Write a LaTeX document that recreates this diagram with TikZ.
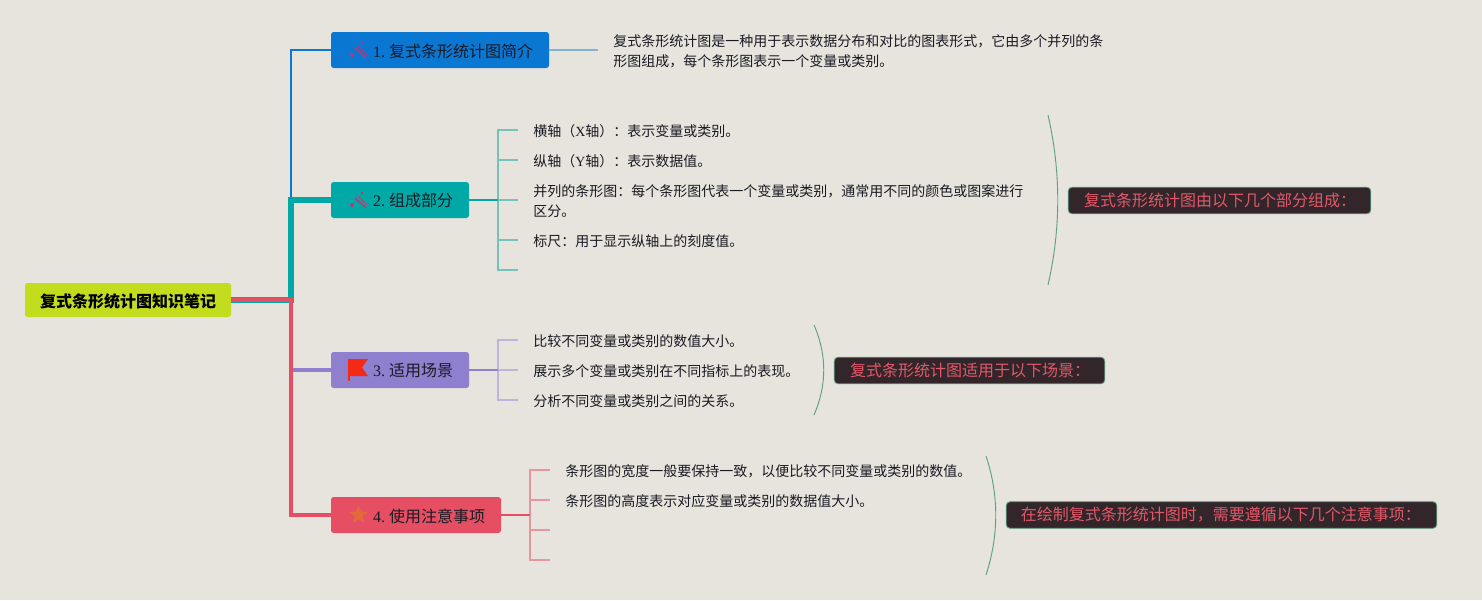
\documentclass[tikz,border=0pt]{standalone}
\usepackage{fontspec}
\usetikzlibrary{shapes.geometric}
\setmainfont{Noto Sans CJK SC}
\newfontfamily\latf{Liberation Serif}
\newcommand{\lat}[1]{{\latf #1}}
\definecolor{bgc}{HTML}{E6E4DC}
\definecolor{rootc}{HTML}{C3DC1E}
\definecolor{bluec}{HTML}{0A78D2}
\definecolor{tealc}{HTML}{00A8A6}
\definecolor{purpc}{HTML}{8E7FCF}
\definecolor{redc}{HTML}{E64F63}
\definecolor{lblue}{HTML}{7FB4D2}
\definecolor{lteal}{HTML}{74C2BC}
\definecolor{lpurp}{HTML}{BDB4DC}
\definecolor{lred}{HTML}{E8959F}
\definecolor{curvec}{HTML}{5F9F86}
\definecolor{labelbg}{HTML}{33262A}
\definecolor{labeltx}{HTML}{E0596A}
\definecolor{toolc}{HTML}{C8326E}
\definecolor{flagc}{HTML}{F52A14}
\definecolor{starc}{HTML}{E46A3A}
\definecolor{inkc}{HTML}{1A1A24}
\tikzset{
  rootbox/.style={fill=rootc,rounded corners=2pt,inner sep=0pt,minimum width=154.5pt,minimum height=25.5pt,font=\fontsize{12}{15}\selectfont\bfseries,text=black},
  topicbox/.style={rounded corners=2pt,inner xsep=0pt,inner ysep=0pt,minimum height=27pt,align=left,font=\fontsize{12}{15}\selectfont,text=inkc},
  leaf/.style={anchor=west,inner sep=0pt,align=left,font=\fontsize{10.5}{15}\selectfont,text=inkc},
  sumbox/.style={fill=labelbg,draw=curvec,line width=.6pt,rounded corners=3pt,inner sep=0pt,minimum height=20pt,align=left,font=\fontsize{12}{15}\selectfont,text=labeltx},
  tool/.style={toolc,line width=1.1pt},
  sumcurve/.style={curvec,line width=.7pt},
}
\newcommand{\lowr}[1]{\raisebox{0pt}[\dimexpr\height+1.4pt\relax]{#1}}
\newcommand{\tp}[2]{\hspace*{31.5pt}\lowr{\lat{#1}\kern3pt #2}}
\begin{document}
\begin{tikzpicture}[x=.75pt,y=-.75pt]
\useasboundingbox (0,0) rectangle (1482,600);
\fill[bgc] (0,0) rectangle (1482,600);
% nodes
\node[rootbox] (root) at (128,300) {\lowr{复式条形统计图知识笔记}};
\node[topicbox,fill=bluec,text width=163.5pt] (t1) at (440,50) {\tp{1.}{复式条形统计图简介}};
\node[topicbox,fill=tealc,text width=103.5pt] (t2) at (400,200) {\tp{2.}{组成部分}};
\node[topicbox,fill=purpc,text width=103.5pt] (t3) at (400,370) {\tp{3.}{适用场景}};
\node[topicbox,fill=redc,text width=127.5pt] (t4) at (416,515) {\tp{4.}{使用注意事项}};
\coordinate (trunk) at (291,300);
% main connectors
\draw[bluec,line width=2.2pt] (root.east) -- (trunk) |- (t1.west);
\draw[tealc,line width=5pt] (root.east) -- (trunk) |- (t2.west);
\draw[purpc,line width=3pt] (trunk) |- (t3.west);
\draw[redc,line width=3.6pt] (root.east) -- (trunk) |- (t4.west);
% topic 1
\coordinate (e1) at (598,50);
\draw[lblue,line width=1.2pt] (t1.east) -- (e1);
\node[leaf] (d1) at (613,51) {复式条形统计图是一种用于表示数据分布和对比的图表形式，它由多个并列的条\\形图组成，每个条形图表示一个变量或类别。};
% topic 2
\coordinate (j2) at (498,200);
\foreach \n/\yy in {a/130,b/160,c/200,d/240,e/270}{\coordinate (s2\n) at (518,\yy);}
\draw[lteal,line width=1.2pt] (s2a) -| (j2) |- (s2e);
\draw[lteal,line width=1.2pt] (j2) |- (s2b) (j2) |- (s2c) (j2) |- (s2d);
\draw[tealc,line width=1.4pt] (t2.east) -- (j2);
\node[leaf] (d2a) at (533,131.6) {横轴（\lat{X}轴）：表示变量或类别。};
\node[leaf] (d2b) at (533,161.6) {纵轴（\lat{Y}轴）：表示数据值。};
\node[leaf] (d2c) at (533,201.6) {并列的条形图：每个条形图代表一个变量或类别，通常用不同的颜色或图案进行\\区分。};
\node[leaf] (d2d) at (533,241.6) {标尺：用于显示纵轴上的刻度值。};
\coordinate (c2a) at (1048,115);\coordinate (c2b) at (1048,285);
\draw[sumcurve] (c2a) .. controls (1061,172) and (1061,228) .. (c2b);
\node[sumbox,text width=227pt] (l2) at (1219.5,200.5) {\hspace*{12pt}复式条形统计图由以下几个部分组成：};
% topic 3
\coordinate (j3) at (498,370);
\foreach \n/\yy in {a/340,b/370,c/400}{\coordinate (s3\n) at (518,\yy);}
\draw[lpurp,line width=1.2pt] (s3a) -| (j3) |- (s3c);
\draw[lpurp,line width=1.2pt] (j3) -- (s3b);
\draw[purpc,line width=1.4pt] (t3.east) -- (j3);
\node[leaf] (d3a) at (533,341.6) {比较不同变量或类别的数值大小。};
\node[leaf] (d3b) at (533,371.6) {展示多个变量或类别在不同指标上的表现。};
\node[leaf] (d3c) at (533,401.6) {分析不同变量或类别之间的关系。};
\coordinate (c3a) at (814,325);\coordinate (c3b) at (814,415);
\draw[sumcurve] (c3a) .. controls (827,355) and (827,385) .. (c3b);
\node[sumbox,text width=203pt] (l3) at (969.5,370.5) {\hspace*{12pt}复式条形统计图适用于以下场景：};
% topic 4
\coordinate (j4) at (530,515);
\foreach \n/\yy in {a/470,b/500,c/530,d/560}{\coordinate (s4\n) at (550,\yy);}
\draw[lred,line width=1.2pt] (s4a) -| (j4) |- (s4d);
\draw[lred,line width=1.2pt] (j4) |- (s4b) (j4) |- (s4c);
\draw[redc,line width=1.4pt] (t4.east) -- (j4);
\node[leaf] (d4a) at (565,471.6) {条形图的宽度一般要保持一致，以便比较不同变量或类别的数值。};
\node[leaf] (d4b) at (565,501.6) {条形图的高度表示对应变量或类别的数据值大小。};
\coordinate (c4a) at (986,456);\coordinate (c4b) at (986,575);
\draw[sumcurve] (c4a) .. controls (999,495) and (999,535) .. (c4b);
\node[sumbox,text width=323pt] (l4) at (1221.5,515) {\hspace*{11pt}在绘制复式条形统计图时，需要遵循以下几个注意事项：};
% icons
\foreach \yy in {50,200}{
  \begin{scope}[shift={(0,\yy)}]
    \draw[tool] (355,-2) -- (366,8);
    \draw[toolc,line width=.5pt] (358,-4) -- (367,5);
    \fill[toolc] (362,-8.5) -- (363.2,-7) -- (362,-5.5) -- (360.8,-7) -- cycle;
    \fill[toolc] (352,2.5) -- (354,5) -- (352,7.5) -- (350,5) -- cycle;
  \end{scope}
}
\fill[flagc] (349,359) -- (368,359) -- (362,367.5) -- (368,376) -- (349,376) -- cycle;
\draw[flagc,line width=.8pt] (349,359) -- (349,381);
\node[star,star points=5,star point ratio=2.3,fill=starc,minimum size=14pt,inner sep=0pt] (s4) at (358.5,515) {};
\end{tikzpicture}
\end{document}
